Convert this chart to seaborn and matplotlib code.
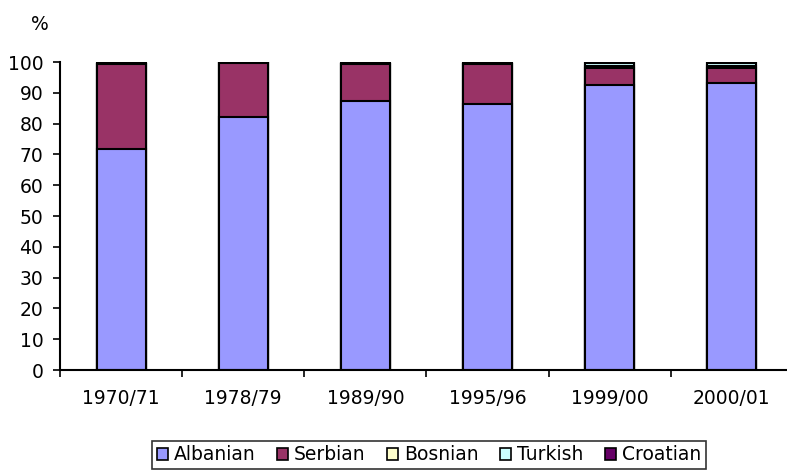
import numpy as np
import pandas as pd
import matplotlib
matplotlib.use("Agg")
import matplotlib.pyplot as plt
import seaborn as sns
from matplotlib.patches import Patch

# ── Data ──────────────────────────────────────────────────────────────────────
years = ["1970/71", "1978/79", "1989/90", "1995/96", "1999/00", "2000/01"]
albanian = [71.9, 82.2, 87.5, 86.3, 92.5, 93.2]
serbian = [27.5, 17.6, 11.8, 13.2, 5.5, 4.9]
bosnian = [0.0, 0.0, 0.0, 0.0, 0.6, 0.6]
turkish = [0.0, 0.0, 0.0, 0.0, 1.0, 1.0]
croatian = [0.6, 0.2, 0.7, 0.5, 0.4, 0.3]

groups = ["Albanian", "Serbian", "Bosnian", "Turkish", "Croatian"]
colors = ["#9999FF", "#993366", "#FFFFCC", "#CCFFFF", "#660066"]

sns.set_theme(style="white")
plt.rcParams["font.family"] = ["DejaVu Sans"]
plt.rcParams["text.color"] = "black"
plt.rcParams["xtick.color"] = "black"
plt.rcParams["ytick.color"] = "black"
FS = 13.5

df = pd.DataFrame({"year": years, "Albanian": albanian, "Serbian": serbian,
                   "Bosnian": bosnian, "Turkish": turkish, "Croatian": croatian})
cum = df[groups].cumsum(axis=1)

fig = plt.figure(figsize=(7.87, 4.72), dpi=100)
ax = fig.add_axes([60 / 787, 102 / 472, 733 / 787, 308 / 472])

# draw tallest cumulative layer first so lower layers sit on top
for g, c in reversed(list(zip(groups, colors))):
    sns.barplot(x=df["year"], y=cum[g], color=c, width=0.4, saturation=1,
                edgecolor="black", linewidth=1.5, ax=ax)

ax.set_ylim(0, 100)
ax.set_xlim(-0.5, 5.5)
ax.set_yticks(range(0, 101, 10))
ax.set_xticks(np.arange(-0.5, 6, 1), minor=False)
ax.set_xticklabels([])
ax.set_xticks(range(6), minor=True)
ax.set_xticklabels(years, minor=True)
ax.tick_params(axis="x", which="major", length=5, width=1.2, color="black",
               direction="out", bottom=True)
ax.tick_params(axis="x", which="minor", length=0, pad=14, labelsize=FS)
ax.tick_params(axis="y", length=5, width=1.2, color="black", direction="out",
               left=True, pad=7, labelsize=FS)
ax.set_xlabel("")
ax.set_ylabel("")
for s in ["top", "right"]:
    ax.spines[s].set_visible(False)
for s in ["left", "bottom"]:
    ax.spines[s].set_color("black")
    ax.spines[s].set_linewidth(1.5)

fig.text(40 / 787, 1 - 24 / 472, "%", ha="center", va="center", fontsize=FS)

handles = [Patch(facecolor=c, edgecolor="black", linewidth=1.2, label=g)
           for g, c in zip(groups, colors)]
leg = fig.legend(handles=handles, loc="center", bbox_to_anchor=(429 / 787, 1 - 455 / 472),
                 ncol=5, frameon=True, fancybox=False, fontsize=FS,
                 handlelength=0.6, handleheight=0.6, handletextpad=0.3,
                 columnspacing=1.15, borderpad=0.25, borderaxespad=0)
leg.get_frame().set_edgecolor("black")
leg.get_frame().set_linewidth(1.2)

fig.savefig("out.png", dpi=100)
